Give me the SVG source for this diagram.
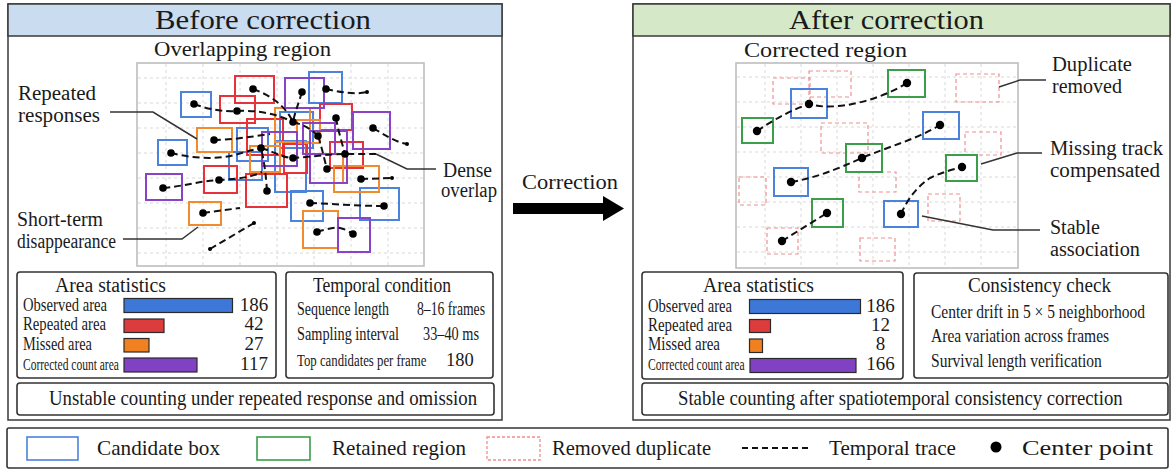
<svg xmlns="http://www.w3.org/2000/svg" width="1174" height="472" viewBox="0 0 1174 472">
<style>
text{font-family:"Liberation Serif","Times New Roman",serif;fill:#1a1a1a}
.panel{fill:#fff;stroke:#3a3a3a;stroke-width:1.5}
.hdrL{fill:#c9dcf0;stroke:#3a3a3a;stroke-width:1.5}
.hdrR{fill:#d5e9c9;stroke:#3a3a3a;stroke-width:1.5}
.box{fill:#fff;stroke:#333;stroke-width:1.6}
.plot{fill:#fff;stroke:#bdbdbd;stroke-width:1.6}
.grid{stroke:#d9d9d9;stroke-width:1;stroke-dasharray:3 3;fill:none}
.b{fill:none;stroke:#4a82dc;stroke-width:2}
.r{fill:none;stroke:#e8323a;stroke-width:2}
.o{fill:none;stroke:#f28a2e;stroke-width:2}
.p{fill:none;stroke:#8a42c6;stroke-width:2}
.g{fill:none;stroke:#3a9e4a;stroke-width:2}
.d{fill:none;stroke:#f08f8f;stroke-width:1.2;stroke-dasharray:4 3}
.tr{fill:none;stroke:#111;stroke-width:2;stroke-dasharray:7 4}
.dot{fill:#000}
.lead{fill:none;stroke:#333;stroke-width:1.5}
.bar{stroke:#2a2a2a;stroke-width:1.2}
.big{font-size:28px}
.sub{font-size:22px}
.lab{font-size:20px}
.row{font-size:18.5px}
.sm{font-size:16px}
.val{font-size:19px;text-anchor:middle}
.bt{font-size:22px}
.lg{font-size:21px}
</style>

<!-- LEFT PANEL -->
<g id="panel-before">
  <rect class="panel" x="8" y="4" width="494" height="416"/>
  <rect class="hdrL" x="8" y="4" width="494" height="32"/>
  <text class="big" x="155" y="29" textLength="216" lengthAdjust="spacingAndGlyphs">Before correction</text>
  <text class="sub" x="154" y="56" textLength="177" lengthAdjust="spacingAndGlyphs">Overlapping region</text>
  <g id="plot-before">
    <rect class="plot" x="137" y="63" width="287" height="203"/>
    <path class="grid" d="M166,64V265M203,64V265M240,64V265M277,64V265M314,64V265M351,64V265M388,64V265M138,78H423M138,103H423M138,128H423M138,153H423M138,178H423M138,203H423M138,228H423M138,253H423"/>
    <rect class="b" x="181" y="92" width="30" height="25"/>
    <rect class="b" x="309" y="72" width="33" height="31"/>
    <rect class="b" x="158" y="140" width="29" height="25"/>
    <rect class="b" x="280" y="112" width="33" height="36"/>
    <rect class="b" x="237" y="128" width="31" height="33"/>
    <rect class="b" x="229" y="152" width="33" height="28"/>
    <rect class="b" x="275" y="141" width="31" height="51"/>
    <rect class="b" x="291" y="191" width="32" height="30"/>
    <rect class="b" x="360" y="188" width="39" height="32"/>
    <rect class="r" x="235" y="76" width="39" height="27"/>
    <rect class="r" x="220" y="96" width="35" height="27"/>
    <rect class="r" x="320" y="104" width="32" height="26"/>
    <rect class="r" x="247" y="119" width="36" height="36"/>
    <rect class="r" x="284" y="144" width="23" height="29"/>
    <rect class="r" x="330" y="142" width="33" height="26"/>
    <rect class="r" x="204" y="166" width="33" height="27"/>
    <rect class="r" x="246" y="174" width="41" height="33"/>
    <rect class="o" x="197" y="128" width="35" height="24"/>
    <rect class="o" x="275" y="108" width="35" height="34"/>
    <rect class="o" x="297" y="120" width="23" height="23"/>
    <rect class="o" x="250" y="146" width="30" height="26"/>
    <rect class="o" x="310" y="154" width="33" height="29"/>
    <rect class="o" x="334" y="166" width="45" height="26"/>
    <rect class="o" x="189" y="202" width="32" height="23"/>
    <rect class="o" x="303" y="211" width="35" height="37"/>
    <rect class="p" x="285" y="78" width="39" height="30"/>
    <rect class="p" x="353" y="112" width="37" height="37"/>
    <rect class="p" x="262" y="132" width="35" height="34"/>
    <rect class="p" x="303" y="123" width="32" height="31"/>
    <rect class="p" x="310" y="131" width="37" height="52"/>
    <rect class="p" x="146" y="174" width="36" height="26"/>
    <rect class="p" x="338" y="218" width="32" height="34"/>
    <path class="tr" d="M194,104C210,110 225,112 237,111C255,110 275,113 293,122"/>
    <path class="tr" d="M253,89C270,95 285,105 293,122"/>
    <path class="tr" d="M302,92C298,105 295,112 293,122"/>
    <path class="tr" d="M326,89C340,92 355,95 367,92"/>
    <path class="tr" d="M214,140C230,140 250,137 270,134"/>
    <path class="tr" d="M171,153C190,158 215,160 235,155C245,152 252,150 261,148"/>
    <path class="tr" d="M261,148C275,152 283,158 293,158C310,157 330,154 345,154L376,154"/>
    <path class="tr" d="M163,188C185,186 200,181 219,180C235,179 250,178 262,172"/>
    <path class="tr" d="M267,191C266,175 264,160 261,148"/>
    <path class="tr" d="M318,136C322,148 324,158 327,169"/>
    <path class="tr" d="M336,118C338,130 342,143 345,154"/>
    <path class="tr" d="M373,128C385,135 395,142 407,144"/>
    <path class="tr" d="M361,179L392,178"/>
    <path class="tr" d="M310,203C335,204 360,206 384,206"/>
    <path class="tr" d="M317,232C327,229 335,227 340,228C345,229 350,232 353,234"/>
    <path class="tr" d="M203,213L240,208"/>
    <path class="tr" d="M210,249L254,223"/>
    <path class="tr" d="M293,122C305,125 312,130 318,136"/>
    <g class="dot">
      <circle cx="194" cy="104" r="3.8"/><circle cx="253" cy="89" r="3.8"/><circle cx="302" cy="92" r="3.8"/>
      <circle cx="326" cy="89" r="3.8"/><circle cx="237" cy="111" r="3.8"/><circle cx="293" cy="122" r="3.8"/>
      <circle cx="336" cy="118" r="3.8"/><circle cx="373" cy="128" r="3.8"/><circle cx="214" cy="140" r="3.8"/>
      <circle cx="318" cy="136" r="3.8"/><circle cx="171" cy="153" r="3.8"/><circle cx="261" cy="148" r="3.8"/>
      <circle cx="293" cy="158" r="3.8"/><circle cx="345" cy="154" r="3.8"/><circle cx="327" cy="169" r="3.8"/>
      <circle cx="163" cy="188" r="3.8"/><circle cx="219" cy="180" r="3.8"/><circle cx="267" cy="191" r="3.8"/>
      <circle cx="361" cy="179" r="3.8"/><circle cx="310" cy="203" r="3.8"/><circle cx="384" cy="206" r="3.8"/>
      <circle cx="203" cy="213" r="3.8"/><circle cx="317" cy="232" r="3.8"/><circle cx="353" cy="234" r="3.8"/>
      <circle cx="367" cy="92" r="2"/><circle cx="407" cy="144" r="2"/><circle cx="392" cy="178" r="2"/>
      <circle cx="254" cy="223" r="2"/><circle cx="210" cy="249" r="2"/>
    </g>
  </g>
  <text class="lab" x="18" y="100" font-size="21" textLength="78" lengthAdjust="spacingAndGlyphs">Repeated</text>
  <text class="lab" x="18" y="122" font-size="21" textLength="82" lengthAdjust="spacingAndGlyphs">responses</text>
  <text class="lab" x="17" y="226" textLength="86" lengthAdjust="spacingAndGlyphs">Short-term</text>
  <text class="lab" x="17" y="248" textLength="99" lengthAdjust="spacingAndGlyphs">disappearance</text>
  <text class="lab" x="443" y="177" textLength="49" lengthAdjust="spacingAndGlyphs">Dense</text>
  <text class="lab" x="441" y="197" textLength="56" lengthAdjust="spacingAndGlyphs">overlap</text>

  <g id="area-stats-before">
    <rect class="box" x="17" y="272" width="259" height="106" rx="3"/>
    <text class="lab" x="55" y="292" font-size="21" textLength="111" lengthAdjust="spacingAndGlyphs">Area statistics</text>
    <text class="row" x="23" y="311" textLength="84" lengthAdjust="spacingAndGlyphs">Observed area</text>
    <text class="row" x="23" y="330" textLength="83" lengthAdjust="spacingAndGlyphs">Repeated area</text>
    <text class="row" x="23" y="350" textLength="69" lengthAdjust="spacingAndGlyphs">Missed area</text>
    <text class="sm" transform="translate(23,370) scale(0.72,1)">Corrected count area</text>
    <rect class="bar" x="124" y="298.5" width="108.5" height="14" fill="#3d78d8"/>
    <rect class="bar" x="124" y="319" width="40" height="13.5" fill="#dd3c3c"/>
    <rect class="bar" x="124" y="338.5" width="25" height="13.5" fill="#f08020"/>
    <rect class="bar" x="124" y="358" width="73" height="14" fill="#8042c2"/>
    <text class="val" x="254" y="311">186</text>
    <text class="val" x="254" y="330">42</text>
    <text class="val" x="254" y="350">27</text>
    <text class="val" x="254" y="370">117</text>
  </g>
  <g id="temporal-condition">
    <rect class="box" x="286" y="272" width="207" height="106" rx="3"/>
    <text class="lab" x="313" y="292" font-size="21" textLength="138" lengthAdjust="spacingAndGlyphs">Temporal condition</text>
    <text class="row" x="297" y="315" textLength="92" lengthAdjust="spacingAndGlyphs">Sequence length</text>
    <text class="row" x="417" y="315" textLength="68" lengthAdjust="spacingAndGlyphs">8–16 frames</text>
    <text class="row" x="297" y="340" textLength="102" lengthAdjust="spacingAndGlyphs">Sampling interval</text>
    <text class="row" x="423" y="340" textLength="56" lengthAdjust="spacingAndGlyphs">33–40 ms</text>
    <text class="sm" transform="translate(297,366) scale(0.8,1)">Top candidates per frame</text>
    <text class="row" x="446" y="366">180</text>
  </g>
  <g id="summary-before">
    <rect class="box" x="17" y="383" width="477" height="32" rx="3"/>
    <text class="bt" transform="translate(49,405) scale(0.855,1)">Unstable counting under repeated response and omission</text>
  </g>
</g>

<!-- RIGHT PANEL -->
<g id="panel-after">
  <rect class="panel" x="633" y="4" width="537" height="416"/>
  <rect class="hdrR" x="633" y="4" width="537" height="32"/>
  <text class="big" x="789" y="29" textLength="195" lengthAdjust="spacingAndGlyphs">After correction</text>
  <text class="sub" x="744" y="57" textLength="163" lengthAdjust="spacingAndGlyphs">Corrected region</text>
  <g id="plot-after">
    <rect class="plot" x="736" y="63" width="282" height="205"/>
    <path class="grid" d="M765,64V267M801,64V267M837,64V267M873,64V267M909,64V267M945,64V267M981,64V267M737,77H1017M737,102H1017M737,127H1017M737,152H1017M737,177H1017M737,202H1017M737,227H1017M737,252H1017"/>
    <rect class="d" x="773" y="78" width="37" height="26"/>
    <rect class="d" x="809" y="71" width="42" height="26"/>
    <rect class="d" x="956" y="74" width="43" height="28"/>
    <rect class="d" x="821" y="123" width="47" height="30"/>
    <rect class="d" x="965" y="132" width="36" height="23"/>
    <rect class="d" x="739" y="177" width="27" height="28"/>
    <rect class="d" x="859" y="172" width="37" height="20"/>
    <rect class="d" x="928" y="194" width="32" height="27"/>
    <rect class="d" x="767" y="228" width="31" height="26"/>
    <rect class="d" x="860" y="238" width="35" height="23"/>
    <rect class="g" x="888" y="70" width="37" height="27"/>
    <rect class="g" x="742" y="118" width="31" height="25"/>
    <rect class="g" x="846" y="144" width="36" height="28"/>
    <rect class="g" x="946" y="155" width="31" height="26"/>
    <rect class="g" x="812" y="199" width="31" height="28"/>
    <rect class="b" x="791" y="89" width="36" height="29"/>
    <rect class="b" x="923" y="112" width="36" height="27"/>
    <rect class="b" x="774" y="168" width="34" height="28"/>
    <rect class="b" x="884" y="201" width="34" height="26"/>
    <path class="tr" d="M757,131Q785,112 809,104C835,112 880,100 907,83"/>
    <path class="tr" d="M791,182C815,178 835,170 862,158C890,146 915,140 940,125"/>
    <path class="tr" d="M782,241L827,213"/>
    <path class="tr" d="M901,214C908,198 918,186 930,178C942,172 952,170 962,167"/>
    <g class="dot">
      <circle cx="907" cy="83" r="4.2"/><circle cx="757" cy="131" r="4.2"/><circle cx="862" cy="158" r="4.2"/>
      <circle cx="962" cy="167" r="4.2"/><circle cx="827" cy="213" r="4.2"/><circle cx="809" cy="104" r="4.2"/>
      <circle cx="940" cy="125" r="4.2"/><circle cx="791" cy="182" r="4.2"/><circle cx="901" cy="214" r="4.2"/>
      <circle cx="782" cy="241" r="4.2"/>
    </g>
  </g>
  <text class="lab" x="1052" y="71" textLength="80" lengthAdjust="spacingAndGlyphs">Duplicate</text>
  <text class="lab" x="1052" y="93" textLength="70" lengthAdjust="spacingAndGlyphs">removed</text>
  <text class="lab" x="1050" y="155" textLength="113" lengthAdjust="spacingAndGlyphs">Missing track</text>
  <text class="lab" x="1050" y="177" textLength="110" lengthAdjust="spacingAndGlyphs">compensated</text>
  <text class="lab" x="1050" y="234" textLength="50" lengthAdjust="spacingAndGlyphs">Stable</text>
  <text class="lab" x="1050" y="256" textLength="90" lengthAdjust="spacingAndGlyphs">association</text>

  <g id="area-stats-after">
    <rect class="box" x="642" y="272" width="261" height="107" rx="3"/>
    <text class="lab" x="703" y="292" font-size="21" textLength="111" lengthAdjust="spacingAndGlyphs">Area statistics</text>
    <text class="row" x="648" y="311.5" textLength="84" lengthAdjust="spacingAndGlyphs">Observed area</text>
    <text class="row" x="648" y="331" textLength="84" lengthAdjust="spacingAndGlyphs">Repeated area</text>
    <text class="row" x="648" y="350" textLength="72" lengthAdjust="spacingAndGlyphs">Missed area</text>
    <text class="sm" transform="translate(648,369.5) scale(0.725,1)">Corrected count area</text>
    <rect class="bar" x="749.5" y="299.5" width="111" height="14" fill="#3d78d8"/>
    <rect class="bar" x="749.5" y="319.5" width="21" height="13" fill="#dd3c3c"/>
    <rect class="bar" x="749.5" y="339" width="13" height="13.5" fill="#f08020"/>
    <rect class="bar" x="750" y="358.5" width="106" height="14" fill="#8042c2"/>
    <text class="val" x="880.5" y="311.5">186</text>
    <text class="val" x="880.5" y="331">12</text>
    <text class="val" x="880.5" y="350">8</text>
    <text class="val" x="880.5" y="369.5">166</text>
  </g>
  <g id="consistency-check">
    <rect class="box" x="914" y="273" width="254" height="105" rx="3"/>
    <text class="lab" x="968" y="292" font-size="21" textLength="143" lengthAdjust="spacingAndGlyphs">Consistency check</text>
    <text class="row" transform="translate(931,318) scale(0.84,1)">Center drift in 5 × 5 neighborhood</text>
    <text class="row" transform="translate(931,341.5) scale(0.84,1)">Area variation across frames</text>
    <text class="row" transform="translate(931,366.5) scale(0.84,1)">Survival length verification</text>
  </g>
  <g id="summary-after">
    <rect class="box" x="642" y="383" width="526" height="32" rx="3"/>
    <text class="bt" transform="translate(678,405) scale(0.852,1)">Stable counting after spatiotemporal consistency correction</text>
  </g>
</g>

<!-- CONNECTORS -->
<g id="connectors">
  <path class="lead" d="M110,112L153,112L197,139"/>
  <path class="lead" d="M123,239L182,239L198,227"/>
  <path class="lead" d="M376,154L407,169L436,169"/>
  <path class="lead" d="M999,87L1020,80L1046,80"/>
  <path class="lead" d="M981,164L1017,153L1042,153"/>
  <path class="lead" d="M922,216L993,230L1040,230"/>
  <g id="correction-arrow">
    <rect x="513" y="203" width="92" height="11" fill="#000"/>
    <polygon points="603,196 624,208.5 603,221" fill="#000"/>
  </g>
</g>
<text class="lab" x="522" y="189" font-size="22" textLength="96" lengthAdjust="spacingAndGlyphs">Correction</text>

<!-- LEGEND -->
<g id="legend">
  <rect class="box" x="7" y="428" width="1161" height="40" rx="2"/>
  <rect x="27" y="437" width="51" height="23" fill="none" stroke="#4a82dc" stroke-width="1.6"/>
  <text class="lg" x="97" y="455" textLength="123" lengthAdjust="spacingAndGlyphs">Candidate box</text>
  <rect x="257" y="437" width="53" height="23" fill="none" stroke="#3a9e4a" stroke-width="1.6"/>
  <text class="lg" x="332" y="455" textLength="134" lengthAdjust="spacingAndGlyphs">Retained region</text>
  <rect x="487" y="437" width="53" height="23" fill="none" stroke="#f08f8f" stroke-width="1.3" stroke-dasharray="3 2"/>
  <text class="lg" x="552" y="455" textLength="159" lengthAdjust="spacingAndGlyphs">Removed duplicate</text>
  <path d="M742,448H812" stroke="#111" stroke-width="2" stroke-dasharray="6 4"/>
  <text class="lg" x="829" y="455" textLength="127" lengthAdjust="spacingAndGlyphs">Temporal trace</text>
  <circle cx="996" cy="447" r="5.5" fill="#000"/>
  <text class="lg" x="1022" y="455" textLength="131" lengthAdjust="spacingAndGlyphs">Center point</text>
</g>
</svg>
